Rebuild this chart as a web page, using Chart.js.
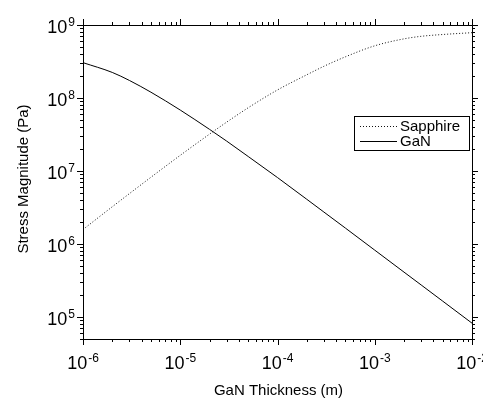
<!DOCTYPE html>
<html>
<head>
<meta charset="utf-8">
<script src="https://cdn.jsdelivr.net/npm/chart.js@4.4.0/dist/chart.umd.min.js"></script>
<style>
  html, body { margin: 0; padding: 0; background: #fff; }
</style>
</head>
<body>
<canvas id="chart" width="483" height="398"></canvas>
<script>
// Values (log-log plot)
const thickness = [1e-6, 2e-6, 3e-6, 5e-6, 1e-5, 2e-5, 3e-5, 5e-5, 1e-4, 2e-4, 3e-4, 5e-4, 1e-3, 2e-3, 3e-3, 5e-3, 1e-2];
const sapphireStress = [1.58e6, 3.24e6, 4.9e6, 8.22e6, 1.64e7, 3.2e7, 4.67e7, 7.36e7, 1.29e8, 2.08e8, 2.72e8, 3.67e8, 5.19e8, 6.46e8, 7.0e8, 7.41e8, 7.85e8];
const ganStress = [3.05e8, 2.24e8, 1.74e8, 1.2e8, 6.84e7, 3.72e7, 2.57e7, 1.58e7, 8.13e6, 4.1e6, 2.74e6, 1.65e6, 8.24e5, 4.12e5, 2.75e5, 1.65e5, 8.24e4];
const seriesNames = ['Sapphire', 'GaN'];
const xTickExps = [-6, -5, -4, -3, -2];
const yTickExps = [5, 6, 7, 8, 9];
const xTitle = 'GaN Thickness (m)';
const yTitle = 'Stress Magnitude (Pa)';

const FONT = "'Liberation Sans', Arial, sans-serif";

function toPoints(xs, ys) {
    return xs.map((x, i) => ({ x: x, y: ys[i] }));
}

// draws "10" with a raised exponent; anchor is 'center' or 'right'
function drawPow(ctx, exp, px, baseline, anchor) {
    ctx.font = '18px ' + FONT;
    const w10 = ctx.measureText('10').width;
    ctx.font = '12px ' + FONT;
    const sup = String(exp);
    const wSup = ctx.measureText(sup).width;
    const total = w10 + 1 + wSup;
    const start = anchor === 'center' ? px - total / 2 : px - total;
    ctx.textAlign = 'left';
    ctx.textBaseline = 'alphabetic';
    ctx.font = '18px ' + FONT;
    ctx.fillText('10', start, baseline);
    ctx.font = '12px ' + FONT;
    ctx.fillText(sup, start + w10 + 1, baseline - 7);
}

// frame, log ticks, labels, titles and boxed legend
const axesFrame = {
    id: 'axesFrame',
    afterDraw(chart) {
        const { ctx, chartArea: a, scales: { x, y } } = chart;
        ctx.save();
        ctx.strokeStyle = '#000';
        ctx.fillStyle = '#000';
        ctx.lineWidth = 1;
        ctx.setLineDash([]);
        ctx.strokeRect(a.left + 0.5, a.top + 0.5, a.right - a.left, a.bottom - a.top);

        ctx.beginPath();
        // x ticks (bottom + top)
        for (let e = Math.floor(Math.log10(x.min)); e <= Math.floor(Math.log10(x.max)); e++) {
            for (let m = 1; m <= 9; m++) {
                const v = m * Math.pow(10, e);
                if (v < x.min * 0.999 || v > x.max * 1.001) continue;
                const px = Math.round(x.getPixelForValue(v)) + 0.5;
                const len = m === 1 ? 6 : 3;
                ctx.moveTo(px, a.bottom); ctx.lineTo(px, a.bottom + len);
                ctx.moveTo(px, a.top); ctx.lineTo(px, a.top - len);
            }
        }
        // y ticks (left + right)
        for (let e = Math.floor(Math.log10(y.min)); e <= Math.floor(Math.log10(y.max)); e++) {
            for (let m = 1; m <= 9; m++) {
                const v = m * Math.pow(10, e);
                if (v < y.min * 0.999 || v > y.max * 1.001) continue;
                const py = Math.round(y.getPixelForValue(v)) + 0.5;
                const len = m === 1 ? 6 : 3;
                ctx.moveTo(a.left, py); ctx.lineTo(a.left - len, py);
                ctx.moveTo(a.right, py); ctx.lineTo(a.right + len, py);
            }
        }
        ctx.stroke();

        // tick labels
        xTickExps.forEach(e => {
            drawPow(ctx, e, x.getPixelForValue(Math.pow(10, e)), a.bottom + 30, 'center');
        });
        yTickExps.forEach(e => {
            drawPow(ctx, e, a.left - 8, y.getPixelForValue(Math.pow(10, e)) + 8, 'right');
        });

        // axis titles
        ctx.font = '15px ' + FONT;
        ctx.textAlign = 'center';
        ctx.textBaseline = 'alphabetic';
        ctx.fillText(xTitle, (a.left + a.right) / 2 + 1, 395);
        ctx.save();
        ctx.translate(28, (a.top + a.bottom) / 2 - 3);
        ctx.rotate(-Math.PI / 2);
        ctx.fillText(yTitle, 0, 0);
        ctx.restore();

        // legend
        ctx.strokeRect(354.5, 116.5, 115, 34);
        chart.data.datasets.forEach((ds, i) => {
            const ly = 126 + i * 15;
            ctx.beginPath();
            ctx.setLineDash(ds.borderDash || []);
            ctx.lineWidth = ds.borderWidth;
            ctx.strokeStyle = ds.borderColor;
            ctx.moveTo(360, ly + 0.5);
            ctx.lineTo(397, ly + 0.5);
            ctx.stroke();
            ctx.setLineDash([]);
            ctx.textAlign = 'left';
            ctx.fillText(ds.label, 400, ly + 5);
        });
        ctx.restore();
    }
};

new Chart(document.getElementById('chart'), {
    type: 'line',
    data: {
        datasets: [
            {
                label: seriesNames[0],
                data: toPoints(thickness, sapphireStress),
                borderColor: '#111',
                borderWidth: 1,
                borderDash: [1, 2],
                pointRadius: 0,
                cubicInterpolationMode: 'monotone',
                fill: false
            },
            {
                label: seriesNames[1],
                data: toPoints(thickness, ganStress),
                borderColor: '#000',
                borderWidth: 1,
                pointRadius: 0,
                cubicInterpolationMode: 'monotone',
                fill: false
            }
        ]
    },
    options: {
        responsive: false,
        animation: false,
        layout: { padding: { left: 83, right: 11, top: 25, bottom: 59 } },
        plugins: {
            legend: { display: false },
            tooltip: { enabled: false }
        },
        scales: {
            x: { type: 'logarithmic', min: 1e-6, max: 1e-2, display: false },
            y: { type: 'logarithmic', min: 5e4, max: 1e9, display: false }
        }
    },
    plugins: [axesFrame]
});
</script>
</body>
</html>
